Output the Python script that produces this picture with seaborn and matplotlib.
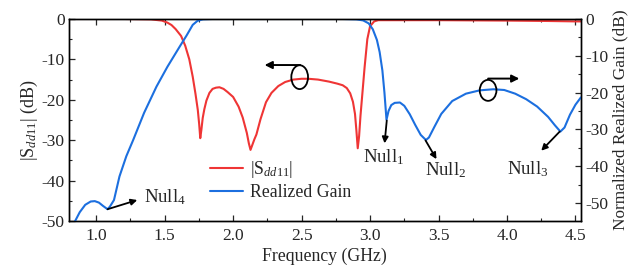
import matplotlib
matplotlib.use("Agg")
import matplotlib.pyplot as plt
import seaborn as sns
from matplotlib.patches import Ellipse
from matplotlib.lines import Line2D
from matplotlib.ticker import MultipleLocator

# |Sdd11| (left axis, dB)
freq_s = [0.80, 1.00, 1.20, 1.40, 1.48, 1.52, 1.55, 1.58, 1.62, 1.65, 1.68, 1.705, 1.725,
          1.742, 1.752, 1.76, 1.768, 1.778, 1.79, 1.805, 1.827, 1.85, 1.875, 1.90, 1.93,
          1.96, 2.00, 2.04, 2.07, 2.10, 2.115, 2.127, 2.14, 2.155, 2.17, 2.20, 2.24, 2.28,
          2.33, 2.38, 2.44, 2.50, 2.55, 2.62, 2.70, 2.76, 2.80, 2.83, 2.855, 2.875, 2.89,
          2.90, 2.91, 2.92, 2.93, 2.945, 2.96, 2.98, 3.00, 3.03, 3.06, 3.10, 3.50,
          4.00, 4.30, 4.50, 4.54]
sdd11 = [0, 0, 0, -0.1, -0.4, -0.9, -1.5, -2.5, -4.2, -6.6, -10, -14.3, -18.5,
         -22.5, -26, -29.5, -27.5, -24.5, -22.3, -20.2, -18.3, -17.3, -17.0, -16.9, -17.3,
         -18.1, -19.3, -21.7, -24.4, -28.2, -30.8, -32.4, -31.2, -29.8, -28.6, -24.8, -20.6, -18.3,
         -16.6, -15.6, -15.0, -14.8, -14.8, -15.0, -15.5, -16.0, -16.4, -17.1, -18.4, -20.5, -23.5,
         -27.5, -32, -29, -24, -18, -12, -5, -1.8, -0.6, -0.3, -0.3, -0.3,
         -0.4, -0.5, -0.6, -0.6]

# normalized realized gain (right axis, dB)
freq_g = [0.845, 0.88, 0.92, 0.96, 0.99, 1.02, 1.05, 1.083, 1.10, 1.13, 1.17, 1.22, 1.27,
          1.35, 1.44, 1.52, 1.61, 1.66, 1.705, 1.74, 1.78, 1.85, 2.0, 2.5, 2.8, 2.90, 2.95,
          2.99, 3.02, 3.05, 3.07, 3.09, 3.105, 3.12, 3.135, 3.155, 3.18, 3.218, 3.25, 3.29,
          3.33, 3.37, 3.408, 3.43, 3.47, 3.52, 3.60, 3.70, 3.80, 3.90, 3.98, 4.06, 4.14,
          4.22, 4.30, 4.35, 4.39, 4.42, 4.46, 4.50, 4.54]
gain = [-55, -52.5, -50.5, -49.6, -49.5, -49.9, -50.8, -51.7, -51.0, -49.2, -42.8, -37.3, -32.9,
        -25.5, -18.4, -13, -7.5, -4.5, -1.6, -0.5, -0.1, 0, 0, 0, 0, -0.1, -0.4,
        -1.2, -2.8, -5.7, -9, -14, -20, -27.4, -25.0, -23.4, -22.8, -22.7, -23.6, -25.9,
        -28.8, -31.5, -32.9, -32.2, -29.3, -25.8, -22.3, -20.3, -19.4, -19.1, -19.3, -20.3, -21.8,
        -23.8, -26.6, -28.9, -30.6, -29.5, -26, -23.3, -21.3]

# null markers: label, arrow start, arrow tip, text position (right axis units)
null_labels = ["Null$_1$", "Null$_2$", "Null$_3$"]
null_start = [(3.122, -27.6), (3.405, -33.0), (4.385, -30.6)]
null_tip = [(3.106, -33.8), (3.485, -38.1), (4.25, -35.8)]
null_text = [(3.10, -37.5), (3.555, -41.0), (4.155, -40.8)]

RED = "#ef3535"
BLUE = "#1c6fdf"

sns.set_theme(style="ticks")
plt.rcParams["font.family"] = ["Liberation Serif", "DejaVu Serif"]
plt.rcParams["mathtext.fontset"] = "custom"
plt.rcParams["mathtext.rm"] = "Liberation Serif"
plt.rcParams["mathtext.it"] = "Liberation Serif:italic"
plt.rcParams["axes.unicode_minus"] = False
plt.rcParams["xtick.direction"] = "in"
plt.rcParams["ytick.direction"] = "in"

fig = plt.figure(figsize=(6.37, 2.71), dpi=100)
ax = fig.add_axes([0.108, 0.1845, 0.804, 0.7455])
ax2 = ax.twinx()

sns.lineplot(x=freq_s, y=sdd11, ax=ax, color=RED, lw=1.5, sort=False)
sns.lineplot(x=freq_g, y=gain, ax=ax2, color=BLUE, lw=1.5, sort=False)

ax.set_xlim(0.8, 4.54)
ax.set_ylim(-50, 0)
ax2.set_ylim(-54.9, 0)
ax.xaxis.set_major_locator(MultipleLocator(0.5))
ax.xaxis.set_minor_locator(MultipleLocator(0.25))
ax.yaxis.set_major_locator(MultipleLocator(10))
ax.yaxis.set_minor_locator(MultipleLocator(5))
ax2.yaxis.set_major_locator(MultipleLocator(10))
ax2.yaxis.set_minor_locator(MultipleLocator(5))
ax2.set_yticks([0, -10, -20, -30, -40, -50])
ax.tick_params(axis="x", which="both", top=True, labelsize=12.5, pad=5)
ax.tick_params(which="major", length=4, width=0.9)
ax.tick_params(which="minor", length=2.5, width=0.8)
ax.tick_params(axis="y", labelsize=12.5, pad=3)
ax2.tick_params(which="major", length=4, width=0.9, labelsize=12.5, pad=3)
ax2.tick_params(which="minor", length=2.5, width=0.8)
for a in (ax, ax2):
    for s in a.spines.values():
        s.set_linewidth(1.0)
        s.set_color("black")

ax.set_xlabel("Frequency (GHz)", fontsize=12.8, labelpad=3)
ax.set_ylabel(r"|S$_{\mathit{dd}11}$| (dB)", fontsize=13, labelpad=1)
ax2.set_ylabel("Normalized Realized Gain (dB)", fontsize=12.4, labelpad=3)

# ellipse + arrow markers for which axis belongs to each curve
ax.add_patch(Ellipse((2.486, -14.4), 0.122, 5.9, fill=False, ec="black", lw=1.3, zorder=5))
ax.annotate("", xy=(2.23, -11.4), xytext=(2.49, -11.4),
            arrowprops=dict(arrowstyle="-|>", color="black", lw=1.4, mutation_scale=11,
                            shrinkA=0, shrinkB=0))
ax2.add_patch(Ellipse((3.862, -19.4), 0.122, 5.7, fill=False, ec="black", lw=1.3, zorder=5))
ax2.annotate("", xy=(4.09, -16.2), xytext=(3.862, -16.2),
             arrowprops=dict(arrowstyle="-|>", color="black", lw=1.4, mutation_scale=11,
                             shrinkA=0, shrinkB=0))

for lab, st, tip, tx in zip(null_labels, null_start, null_tip, null_text):
    ax2.annotate("", xy=tip, xytext=st,
                 arrowprops=dict(arrowstyle="-|>", color="black", lw=1.3, mutation_scale=9,
                                 shrinkA=0, shrinkB=0))
    ax2.text(tx[0], tx[1], lab, fontsize=13.5, ha="center", va="center")

ax2.annotate("", xy=(1.30, -49.2), xytext=(1.083, -51.7),
             arrowprops=dict(arrowstyle="-|>", color="black", lw=1.3, mutation_scale=9,
                             shrinkA=0, shrinkB=0))
ax.text(1.50, -44.2, "Null$_4$", fontsize=13.5, ha="center", va="center")

handles = [Line2D([], [], color=RED, lw=1.5), Line2D([], [], color=BLUE, lw=1.5)]
ax.legend(handles, [r"|S$_{\mathit{dd}11}$|", "Realized Gain"], loc="upper left",
          bbox_to_anchor=(0.275, 0.305), frameon=False, fontsize=12.8, handlelength=1.9,
          handletextpad=0.35, labelspacing=0.2, borderpad=0, borderaxespad=0)

fig.savefig("out.png", dpi=100)
